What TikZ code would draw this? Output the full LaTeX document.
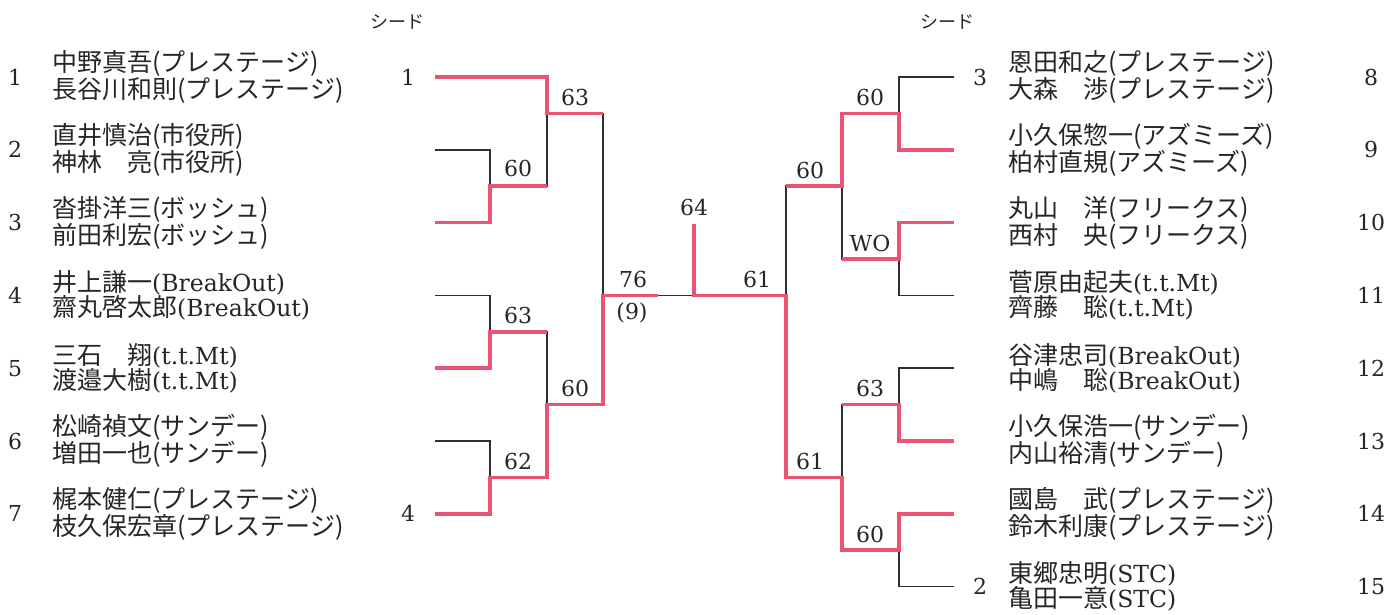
\documentclass[tikz,border=0pt]{standalone}
\usepackage{fontspec}
\usepackage{xcolor}
\usepackage{tikz}
\usetikzlibrary{calc}
\setmainfont{DejaVu Serif}
\newfontfamily\jp{Noto Sans CJK JP}
\definecolor{pRed}{RGB}{234,84,114}
\definecolor{pInk}{RGB}{45,45,55}
\newcommand{\lat}[1]{{\rmfamily\fontsize{23.5}{25}\selectfont #1}}
\tikzset{
  player/.style={
    anchor=west, align=left, inner sep=0pt,
    text=black!85, font=\jp\fontsize{25}{25}\selectfont
  },
  entrynum/.style={inner sep=0pt, text=black!85, font=\fontsize{22}{22}\selectfont},
  score/.style={inner sep=0pt, text=black!85, font=\fontsize{22}{22}\selectfont},
  seedhead/.style={inner sep=0pt, text=black!85, font=\jp\fontsize{18}{18}\selectfont},
  wire/.style={pInk, line width=1.6pt},
  winwire/.style={pRed, line width=3.6pt}
}

\begin{document}
\begin{tikzpicture}[x=1pt,y=-1pt]
\fill[white,use as bounding box] (0,0) rectangle (1389,615);
\node[seedhead] (sdL) at (397,22) {シード};
\node[seedhead] (sdR) at (947,22) {シード};
\node[entrynum] (n1) at (15,77) {1};
\node[entrynum] (n2) at (15,149.8) {2};
\node[entrynum] (n3) at (15,222.6) {3};
\node[entrynum] (n4) at (15,295.4) {4};
\node[entrynum] (n5) at (15,368.2) {5};
\node[entrynum] (n6) at (15,441) {6};
\node[entrynum] (n7) at (15,513.8) {7};
\node[player] (p1) at (52,77) {中野真吾(プレステージ)\\長谷川和則(プレステージ)};
\node[player] (p2) at (52,149.8) {直井慎治(市役所)\\神林　亮(市役所)};
\node[player] (p3) at (52,222.6) {沓掛洋三(ボッシュ)\\前田利宏(ボッシュ)};
\node[player] (p4) at (52,295.4) {井上謙一\lat{(BreakOut)}\\齋丸啓太郎\lat{(BreakOut)}};
\node[player] (p5) at (52,368.2) {三石　翔\lat{(t.t.Mt)}\\渡邉大樹\lat{(t.t.Mt)}};
\node[player] (p6) at (52,441) {松崎禎文(サンデー)\\増田一也(サンデー)};
\node[player] (p7) at (52,513.8) {梶本健仁(プレステージ)\\枝久保宏章(プレステージ)};
\node[player] (p8) at (1008,77) {恩田和之(プレステージ)\\大森　渉(プレステージ)};
\node[player] (p9) at (1008,149.8) {小久保惣一(アズミーズ)\\柏村直規(アズミーズ)};
\node[player] (p10) at (1008,222.6) {丸山　洋(フリークス)\\西村　央(フリークス)};
\node[player] (p11) at (1008,295.4) {菅原由起夫\lat{(t.t.Mt)}\\齊藤　聡\lat{(t.t.Mt)}};
\node[player] (p12) at (1008,368.2) {谷津忠司\lat{(BreakOut)}\\中嶋　聡\lat{(BreakOut)}};
\node[player] (p13) at (1008,441) {小久保浩一(サンデー)\\内山裕清(サンデー)};
\node[player] (p14) at (1008,513.8) {國島　武(プレステージ)\\鈴木利康(プレステージ)};
\node[player] (p15) at (1008,586.6) {東郷忠明\lat{(STC)}\\亀田一意\lat{(STC)}};
\node[entrynum] (n8) at (1371,77) {8};
\node[entrynum] (n9) at (1371,149.8) {9};
\node[entrynum] (n10) at (1371,222.6) {10};
\node[entrynum] (n11) at (1371,295.4) {11};
\node[entrynum] (n12) at (1371,368.2) {12};
\node[entrynum] (n13) at (1371,441) {13};
\node[entrynum] (n14) at (1371,513.8) {14};
\node[entrynum] (n15) at (1371,586.6) {15};
\node[entrynum] (s1) at (408,77) {1};
\node[entrynum] (s4) at (408,513.8) {4};
\node[entrynum] (s3) at (980,77) {3};
\node[entrynum] (s2) at (980,586.6) {2};
\coordinate (l1) at (435,77);
\coordinate (l2) at (435,149.8);
\coordinate (l3) at (435,222.6);
\coordinate (l4) at (435,295.4);
\coordinate (l5) at (435,368.2);
\coordinate (l6) at (435,441);
\coordinate (l7) at (435,513.8);
\coordinate (r1) at (954,77);
\coordinate (r2) at (954,149.8);
\coordinate (r3) at (954,222.6);
\coordinate (r4) at (954,295.4);
\coordinate (r5) at (954,368.2);
\coordinate (r6) at (954,441);
\coordinate (r7) at (954,513.8);
\coordinate (r8) at (954,586.6);
\coordinate (a23) at (490,186.2);
\coordinate (a45) at (490,331.8);
\coordinate (a67) at (490,477.4);
\coordinate (b1) at (547,113.4);
\coordinate (b47) at (547,404.6);
\coordinate (c) at (603,295.4);
\coordinate (cx) at (658,295.4);
\coordinate (m) at (694,295.4);
\coordinate (mt) at (694,224);
\coordinate (e) at (786,295.4);
\coordinate (f1) at (842,186.2);
\coordinate (f2) at (842,477.4);
\coordinate (g1) at (899,113.4);
\coordinate (g2) at (899,259);
\coordinate (g3) at (899,404.6);
\coordinate (g4) at (899,550.2);
\draw[wire] (l1) -| (b1) -| (c);
\draw[wire] (l2) -| (a23) -| (b1);
\draw[wire] (l3) -| (a23);
\draw[wire] (l4) -| (a45) -| (b47) -| (c);
\draw[wire] (l5) -| (a45);
\draw[wire] (l6) -| (a67) -| (b47);
\draw[wire] (l7) -| (a67);
\draw[wire] (c) -- (e);
\draw[wire] (mt) -- (m);
\draw[wire] (r1) -| (g1) -| (f1) -| (e);
\draw[wire] (r2) -| (g1);
\draw[wire] (r3) -| (g2) -| (f1);
\draw[wire] (r4) -| (g2);
\draw[wire] (r5) -| (g3) -| (f2) -| (e);
\draw[wire] (r6) -| (g3);
\draw[wire] (r7) -| (g4) -| (f2);
\draw[wire] (r8) -| (g4);
\draw[winwire] (l1) -| (b1) -- (b1 -| c);
\draw[winwire] (l3) -| (a23) -- (a23 -| b1);
\draw[winwire] (l5) -| (a45) -- (a45 -| b47);
\draw[winwire] (l7) -| (a67) -| (b47) -| (c) -- (cx);
\draw[winwire] (mt) -- (m) -- (e) |- (f2) |- (g4) |- (r7);
\draw[winwire] (f1 -| e) -- (f1) |- (g1) |- (r2);
\draw[winwire] (g2 -| f1) -- (g2) |- (r3);
\draw[winwire] (g3 -| f2) -- (g3) |- (r6);
\node[score] (w1) at (575,97) {63};
\node[score] (w2) at (518,168) {60};
\node[score] (w3) at (518,315) {63};
\node[score] (w4) at (575,388) {60};
\node[score] (w5) at (518,461) {62};
\node[score] (w6) at (633,279) {76};
\node[score] (w7) at (632,313) {(9)};
\node[score] (w8) at (694,207) {64};
\node[score] (w9) at (757,279) {61};
\node[score] (w10) at (870,97) {60};
\node[score] (w11) at (870,243) {WO};
\node[score] (w12) at (810,170) {60};
\node[score] (w13) at (870,388) {63};
\node[score] (w14) at (870,534) {60};
\node[score] (w15) at (810,461) {61};
\end{tikzpicture}
\end{document}
